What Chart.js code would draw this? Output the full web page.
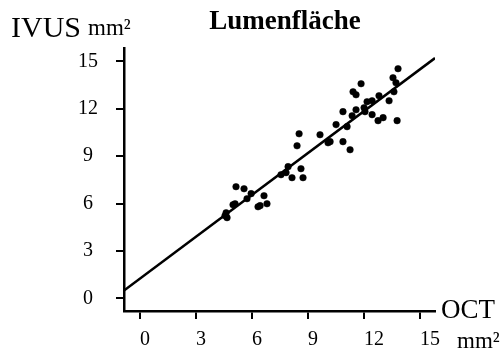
<!DOCTYPE html>
<html>
<head>
<meta charset="utf-8">
<script src="https://cdn.jsdelivr.net/npm/chart.js@4.4.1/dist/chart.umd.min.js"></script>
<style>
  body { margin: 0; background: #fff; }
  canvas { display: block; }
</style>
</head>
<body>
<canvas id="myChart" width="500" height="351"></canvas>
<script>
// Lumen area, OCT (x) vs IVUS (y), mm²
const octArea = [4.61, 4.66, 4.55, 4.98, 5.09, 5.14, 5.57, 5.73, 5.95, 6.32, 6.43, 6.64, 6.80,
    7.55, 7.82, 7.93, 8.14, 8.62, 8.73, 8.41, 8.52, 9.64, 10.07, 10.18, 10.50, 10.87, 11.09,
    11.25, 10.87, 11.36, 11.41, 11.57, 11.57, 11.84, 12.00, 12.05, 12.16, 12.43, 12.43, 12.75,
    12.80, 13.02, 13.34, 13.60, 13.55, 13.71, 13.77, 13.82];
const ivusArea = [5.42, 5.11, 5.23, 5.93, 5.99, 7.07, 6.94, 6.31, 6.63, 5.80, 5.87, 6.50, 5.99,
    7.83, 7.96, 8.34, 7.64, 8.21, 7.64, 9.66, 10.42, 10.36, 9.85, 9.92, 11.00, 9.92, 10.87,
    9.41, 11.82, 11.56, 13.08, 12.89, 11.94, 13.59, 12.07, 11.82, 12.45, 12.51, 11.63, 11.25,
    12.83, 11.44, 12.51, 13.08, 13.97, 13.65, 11.25, 14.54];

// regression line
const fitIntercept = 1.26;
const fitSlope = 0.883;

// axes
const xTicks = [0, 3, 6, 9, 12, 15];
const yTicks = [0, 3, 6, 9, 12, 15];
const xRange = [-0.86, 15.8];
const yRange = [-0.8, 15.85];

const serif = '"Liberation Serif", "DejaVu Serif", serif';

const points = octArea.map((x, i) => ({x, y: ivusArea[i]}));
const fitLine = xRange.map(x => ({x, y: fitIntercept + fitSlope * x}));

// free-standing texts around the plot
const textPlugin = {
    id: 'texts',
    afterDraw(chart) {
        const c = chart.ctx;
        const a = chart.chartArea;
        c.save();
        c.fillStyle = '#000';
        c.textBaseline = 'alphabetic';
        c.textAlign = 'center';
        c.font = 'bold 27px ' + serif;
        c.fillText('Lumenfläche', 285, 29);
        c.textAlign = 'left';
        c.font = '30px ' + serif;
        c.fillText('IVUS', 11, 37);
        c.font = '23px ' + serif;
        c.fillText('mm²', 88, 35);
        c.font = '27px ' + serif;
        c.fillText('OCT', a.right + 6, a.bottom + 7);
        c.font = '23px ' + serif;
        c.fillText('mm²', 457, 348);
        c.restore();
    }
};

const ctx = document.getElementById('myChart').getContext('2d');
const myChart = new Chart(ctx, {
    type: 'scatter',
    data: {
        datasets: [
            {
                type: 'line',
                data: fitLine,
                borderColor: '#000',
                borderWidth: 2.5,
                pointRadius: 0,
                fill: false
            },
            {
                data: points,
                backgroundColor: '#000',
                borderColor: '#000',
                pointRadius: 3.3,
                borderWidth: 0.5
            }
        ]
    },
    options: {
        responsive: false,
        animation: false,
        devicePixelRatio: 1,
        layout: {padding: {left: 0, top: 48, right: 65, bottom: 0}},
        plugins: {legend: {display: false}, tooltip: {enabled: false}},
        scales: {
            x: {
                type: 'linear',
                min: xRange[0],
                max: xRange[1],
                afterFit: s => { s.height = 40; },
                afterBuildTicks: s => { s.ticks = xTicks.map(v => ({value: v})); },
                border: {display: true, color: '#000', width: 2.5},
                grid: {drawOnChartArea: false, drawTicks: true, tickLength: 8, color: '#000', lineWidth: 2},
                ticks: {
                    color: '#000',
                    align: 'start',
                    padding: 9,
                    font: {family: serif, size: 20},
                    callback: v => String(v)
                }
            },
            y: {
                type: 'linear',
                min: yRange[0],
                max: yRange[1],
                afterFit: s => { s.width = 124; },
                afterBuildTicks: s => { s.ticks = yTicks.map(v => ({value: v})); },
                border: {display: true, color: '#000', width: 2.5},
                grid: {drawOnChartArea: false, drawTicks: true, tickLength: 8, color: '#000', lineWidth: 2},
                ticks: {
                    color: '#000',
                    crossAlign: 'center',
                    padding: 18,
                    font: {family: serif, size: 20},
                    callback: v => String(v)
                }
            }
        }
    },
    plugins: [textPlugin]
});
</script>
</body>
</html>
